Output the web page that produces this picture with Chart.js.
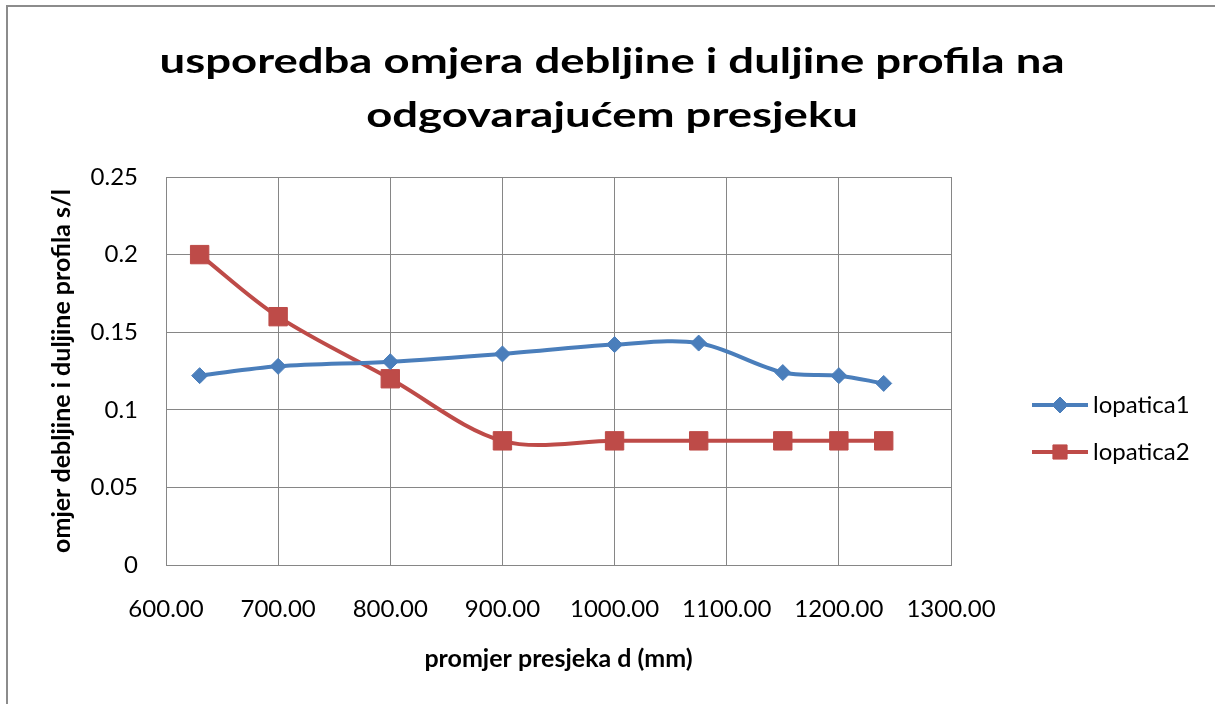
<!DOCTYPE html>
<html>
<head>
<meta charset="utf-8">
<script src="https://cdn.jsdelivr.net/npm/chart.js@4"></script>
<style>
    body { margin: 0; background: #fff; }
    #wrap { position: relative; width: 1215px; height: 704px; overflow: hidden; }
    #frame { position: absolute; left: 6px; top: 5px; width: 1300px; height: 800px;
             border-left: 2px solid #8c8c8c; border-top: 2px solid #8c8c8c; }
    #chart { position: absolute; left: 0; top: 0; }
</style>
</head>
<body>
<div id="wrap">
    <div id="frame"></div>
    <canvas id="chart" width="1215" height="704"></canvas>
</div>
<script>
// podaci očitani s grafa
const promjer1 = [630, 700, 800, 900, 1000, 1075, 1150, 1200, 1240];
const lopatica1 = [0.122, 0.128, 0.131, 0.136, 0.142, 0.143, 0.124, 0.122, 0.117];
const promjer2 = [630, 700, 800, 900, 1000, 1075, 1150, 1200, 1240];
const lopatica2 = [0.2, 0.16, 0.12, 0.08, 0.08, 0.08, 0.08, 0.08, 0.08];
const seriesNames = ['lopatica1', 'lopatica2'];
const titleLines = ['usporedba omjera debljine i duljine profila na', 'odgovarajućem presjeku'];

const FONT = 'Lato, "Open Sans", sans-serif';
const BLUE = '#4a7ebb';
const RED = '#be4b48';
const GRID = '#868686';

// naslov centriran na cijelu sliku, malo razvučen u širinu (kao Calibri na slici)
const excelTitle = {
    id: 'excelTitle',
    afterDraw(chart) {
        const ctx = chart.ctx;
        ctx.save();
        ctx.fillStyle = '#000';
        ctx.font = 'bold 34px ' + FONT;
        const stretch = 905 / ctx.measureText(titleLines[0]).width;
        ctx.textAlign = 'center';
        ctx.textBaseline = 'alphabetic';
        ctx.translate(612, 0);
        ctx.scale(stretch, 1);
        titleLines.forEach((line, i) => {
            ctx.fillText(line, 0, 73 + i * 54);
        });
        ctx.restore();
    }
};

// legenda: linija s markerom kao u Excelu
const excelLegend = {
    id: 'excelLegend',
    afterDraw(chart) {
        const ctx = chart.ctx;
        const area = chart.chartArea;
        const x0 = area.right + 81;
        const rows = [405, 452];
        chart.data.datasets.forEach((ds, i) => {
            const y = rows[i];
            ctx.save();
            ctx.strokeStyle = ds.borderColor;
            ctx.lineWidth = 4;
            ctx.beginPath();
            ctx.moveTo(x0, y);
            ctx.lineTo(x0 + 56, y);
            ctx.stroke();
            ctx.fillStyle = ds.pointBackgroundColor;
            ctx.strokeStyle = ds.pointBorderColor;
            ctx.lineWidth = 1;
            Chart.helpers.drawPoint(ctx, {
                pointStyle: ds.pointStyle,
                radius: ds.pointStyle === 'rect' ? 10 : 8,
                borderWidth: 1
            }, x0 + 28, y);
            ctx.fillStyle = '#000';
            ctx.font = '24px ' + FONT;
            ctx.textBaseline = 'middle';
            ctx.textAlign = 'left';
            ctx.fillText(ds.label, x0 + 61, y);
            ctx.restore();
        });
    }
};

const toXY = (xs, ys) => xs.map((x, i) => ({ x: x, y: ys[i] }));

new Chart(document.getElementById('chart'), {
    type: 'line',
    data: {
        datasets: [{
            label: seriesNames[0],
            data: toXY(promjer1, lopatica1),
            borderColor: BLUE,
            backgroundColor: BLUE,
            pointBackgroundColor: BLUE,
            pointBorderColor: BLUE,
            borderWidth: 4,
            pointStyle: 'rectRot',
            pointRadius: 8,
            pointBorderWidth: 1,
            tension: 0.33
        }, {
            label: seriesNames[1],
            data: toXY(promjer2, lopatica2),
            borderColor: RED,
            backgroundColor: RED,
            pointBackgroundColor: RED,
            pointBorderColor: RED,
            borderWidth: 4,
            pointStyle: 'rect',
            pointRadius: 13,
            pointBorderWidth: 1,
            tension: 0.33
        }]
    },
    options: {
        responsive: false,
        animation: false,
        layout: { padding: { left: 0, right: 264, top: 177, bottom: 0 } },
        plugins: {
            legend: { display: false },
            tooltip: { enabled: false },
            title: { display: false }
        },
        scales: {
            x: {
                type: 'linear',
                min: 600,
                max: 1300,
                afterFit(scale) { scale.height = 139; },
                ticks: {
                    stepSize: 100,
                    color: '#000',
                    padding: 30,
                    font: { family: FONT, size: 24 },
                    callback: v => v.toFixed(2)
                },
                grid: { color: GRID, lineWidth: 1, drawTicks: false, tickLength: 0 },
                border: { color: GRID, width: 1 },
                title: {
                    display: true,
                    text: 'promjer presjeka d (mm)',
                    color: '#000',
                    font: { family: FONT, size: 25, weight: 'bold', lineHeight: 1.2 },
                    padding: { top: 0, bottom: 30 }
                }
            },
            y: {
                min: 0,
                max: 0.25,
                afterFit(scale) { scale.width = 166; },
                ticks: {
                    stepSize: 0.05,
                    color: '#000',
                    padding: 28,
                    font: { family: FONT, size: 24 },
                    callback: v => String(Math.round(v * 100) / 100)
                },
                grid: { color: GRID, lineWidth: 1, drawTicks: false, tickLength: 0 },
                border: { color: GRID, width: 1 },
                title: {
                    display: true,
                    text: 'omjer debljine i duljine profila s/l',
                    color: '#000',
                    font: { family: FONT, size: 25, weight: 'bold', lineHeight: 1.2 },
                    padding: { top: 47, bottom: 0 }
                }
            }
        }
    },
    plugins: [excelTitle, excelLegend]
});
</script>
</body>
</html>
